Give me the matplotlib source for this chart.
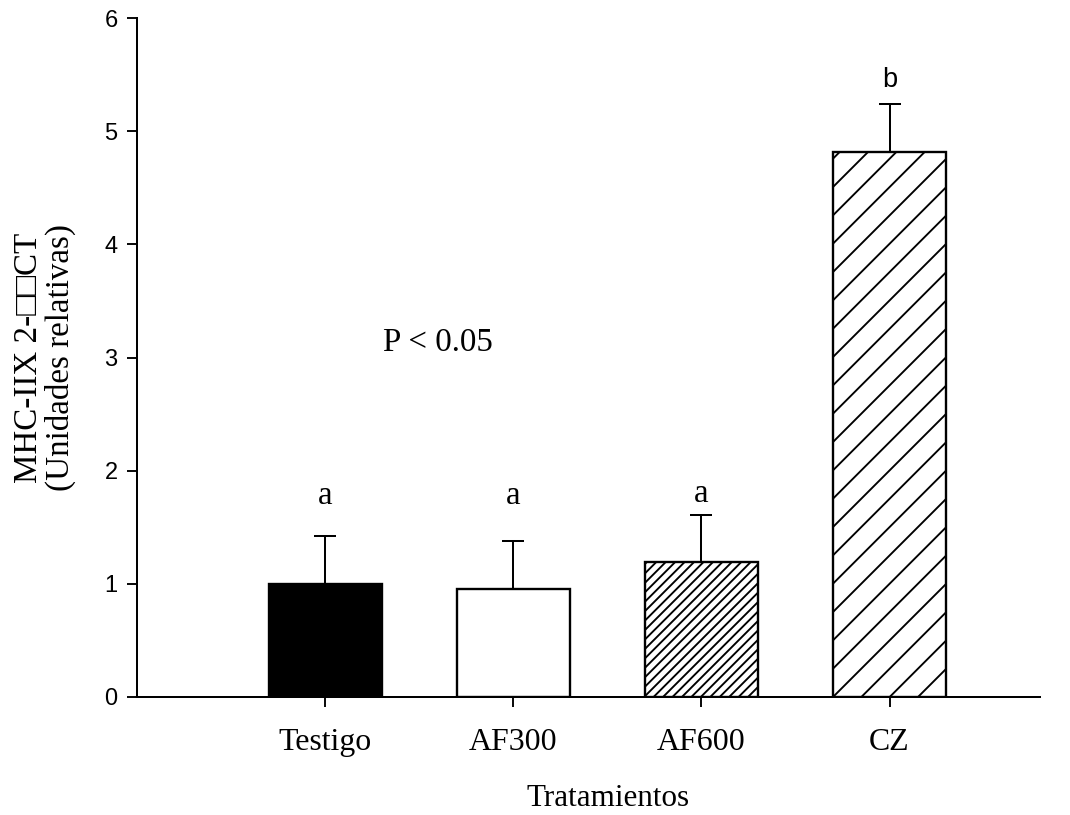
import matplotlib
matplotlib.use("Agg")
import matplotlib.pyplot as plt
import numpy as np

# datos
tratamientos = ["Testigo", "AF300", "AF600", "CZ"]
media = [1.00, 0.955, 1.19, 4.82]
error = [0.42, 0.42, 0.42, 0.42]
letras = ["a", "a", "a", "b"]
letra_y = [1.78, 1.78, 1.80, 5.45]
colores = ["black", "white", "white", "white"]
tramas = [None, None, "//////", "//"]

DPI = 170
plt.rcParams["hatch.linewidth"] = 0.8
fig = plt.figure(figsize=(1070 / DPI, 815 / DPI), dpi=DPI)
ax = fig.add_axes([0.128, 0.1448, 0.844, 0.833])

x = np.arange(len(tratamientos))
for i in range(len(x)):
    ax.bar(x[i], media[i], width=0.6, color=colores[i], edgecolor="black",
           linewidth=1.0, hatch=tramas[i], zorder=2)
ax.errorbar(x, media, yerr=[np.zeros(len(x)), error], fmt="none", ecolor="black",
            elinewidth=0.85, capsize=4.5, capthick=0.85, zorder=1)

for i in range(len(x)):
    if letras[i] == "b":
        ax.text(x[i], letra_y[i], letras[i], ha="center", va="center",
                fontsize=11.5, family="Liberation Sans")
    else:
        ax.text(x[i], letra_y[i], letras[i], ha="center", va="center",
                fontsize=14, family="Liberation Serif")

ax.text(0.6, 3.13, "P < 0.05", ha="center", va="center", fontsize=14,
        family="Liberation Serif")

ax.set_xlim(-1, 3.8)
ax.set_ylim(0, 6)
ax.set_xticks(x)
ax.set_xticklabels(tratamientos, family="Liberation Serif", fontsize=13.5)
ax.set_yticks(range(7))
ax.set_yticklabels([str(v) for v in range(7)], family="Liberation Sans", fontsize=10)
ax.tick_params(direction="out", length=4.2, width=0.8, pad=4)
ax.tick_params(axis="x", pad=9)
for s in ["top", "right"]:
    ax.spines[s].set_visible(False)
for s in ["left", "bottom"]:
    ax.spines[s].set_linewidth(0.85)

ax.set_xlabel("Tratamientos", family="Liberation Serif", fontsize=13.2)
ax.xaxis.set_label_coords(0.522, -0.128)
ax.set_ylabel("MHC-IIX 2-\u25a1\u25a1CT\n(Unidades relativas)",
              family=["Liberation Serif", "DejaVu Sans"], fontsize=14,
              linespacing=1.0)
ax.yaxis.set_label_coords(-0.068, 0.5)

fig.savefig("out.png", dpi=DPI)
